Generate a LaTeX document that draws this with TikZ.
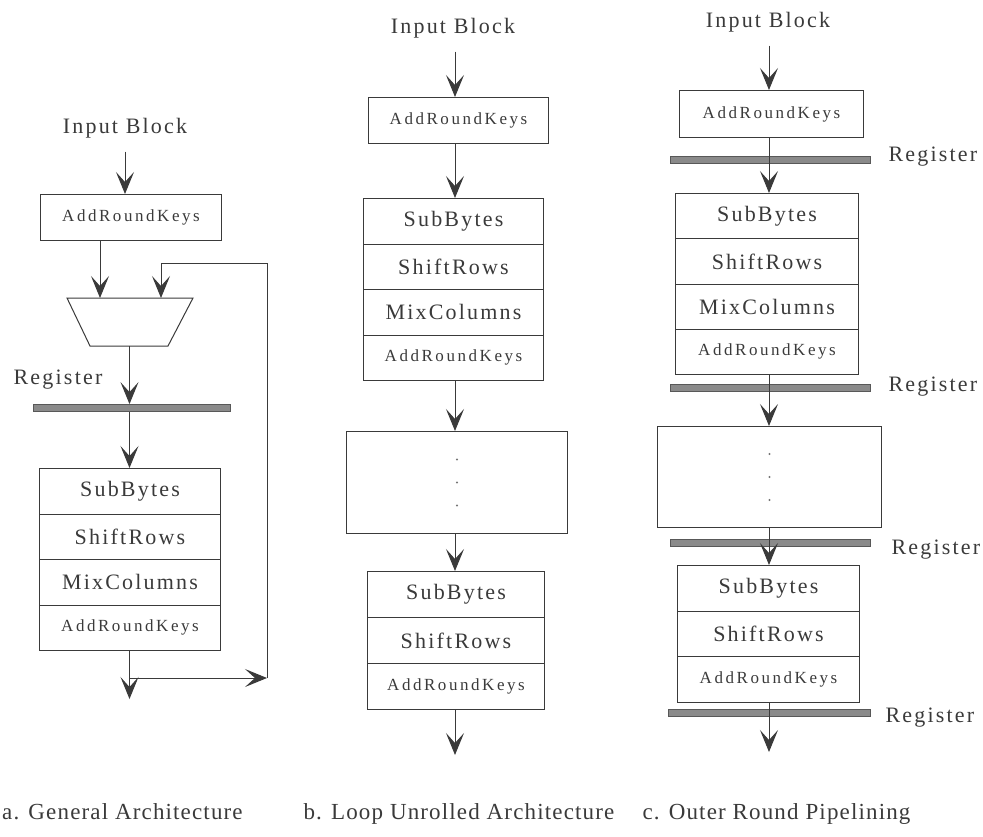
\documentclass[tikz,border=0pt]{standalone}
\usepackage{fontspec}
\setmainfont{Liberation Serif}
\newfontfamily\widefont[LetterSpace=10]{Liberation Serif}
\newfontfamily\keyfontfam[LetterSpace=15]{Liberation Serif}
\newfontfamily\capfontfam[LetterSpace=5]{Liberation Serif}
\usetikzlibrary{arrows.meta,calc}

\definecolor{ink}{RGB}{58,58,58}
\definecolor{regfill}{RGB}{138,138,138}

\begin{document}
\begin{tikzpicture}[x=1pt,y=-1pt,
  every node/.style={text=ink},
  big/.style={font=\widefont\fontsize{22}{24}\selectfont},
  keytext/.style={font=\keyfontfam\fontsize{17}{19}\selectfont},
  captext/.style={font=\capfontfam\fontsize{23}{25}\selectfont},
  stage/.style={draw=ink, line width=1pt, inner sep=0pt, anchor=north west},
  wire/.style={draw=ink, line width=1pt},
  arr/.style={draw=ink, line width=1pt, -{Stealth[length=22pt,width=18pt,inset=10pt]}},
  register/.style={draw=ink!85, fill=regfill, line width=0.8pt,
    minimum height=7pt, inner sep=0pt},
  dotmark/.style={fill=ink!70},
]
\useasboundingbox (0,0) rectangle (983,836);

% ---------------- a. General Architecture ----------------
\node[big] (inA) at (125,128) {Input Block};
\node[stage,keytext,minimum width=181pt,minimum height=46pt] (arkA) at (40,194) {AddRoundKeys};

% multiplexer (trapezoid, wide side on top)
\coordinate (muxTL) at (67,298);
\coordinate (muxTR) at (193,298);
\coordinate (muxBR) at (168,346);
\coordinate (muxBL) at (90,346);
\coordinate (muxIn1) at (100,298);
\coordinate (muxIn2) at (161,298);
\coordinate (muxOut) at (129.5,346);
\draw[wire, line join=miter] (muxTL) -- (muxTR) -- (muxBR) -- (muxBL) -- cycle;

\node[big] (regAl) at (58,380) {Register};
\node[register, minimum width=197pt] (regA) at (131.5,408) {};
\node[stage,big,minimum width=181pt,minimum height=45.5pt] (stkA1) at (39,468) {SubBytes};
\node[stage,big,minimum width=181pt,minimum height=45.5pt] (stkA2) at (39,513.5) {ShiftRows};
\node[stage,big,minimum width=181pt,minimum height=45.5pt] (stkA3) at (39,559) {MixColumns};
\node[stage,keytext,minimum width=181pt,minimum height=45.5pt] (stkA4) at (39,604.5) {AddRoundKeys};

\coordinate (fbR) at (267,678);
\coordinate (fbT) at (161,263);
\coordinate (outA) at (129.5,699);

\draw[arr, shorten <=10pt] (inA.south) -- (inA.south |- arkA.north);
\draw[arr] (arkA.south -| muxIn1) -- (muxIn1);
\draw[arr] (fbR) |- (fbT) -- (muxIn2);
\draw[arr] (muxOut) -- (muxOut |- regA.north);
\draw[arr] (muxOut |- regA.south) -- (muxOut |- stkA1.north);
\draw[arr] (stkA4.south -| outA) -- (outA);
\draw[arr] (outA |- fbR) -- (fbR);

% ---------------- b. Loop Unrolled Architecture ----------------
\node[big] (inB) at (453,28) {Input Block};
\node[stage,keytext,minimum width=180pt,minimum height=46pt] (arkB) at (368,97) {AddRoundKeys};
\node[stage,big,minimum width=180pt,minimum height=45.5pt] (stkB1) at (363,198) {SubBytes};
\node[stage,big,minimum width=180pt,minimum height=45.5pt] (stkB2) at (363,243.5) {ShiftRows};
\node[stage,big,minimum width=180pt,minimum height=45.5pt] (stkB3) at (363,289) {MixColumns};
\node[stage,keytext,minimum width=180pt,minimum height=45.5pt] (stkB4) at (363,334.5) {AddRoundKeys};
\node[stage,minimum width=221pt,minimum height=102pt] (dotsB) at (346,431) {};
\node[stage,big,minimum width=177pt,minimum height=46pt] (finB1) at (367,571) {SubBytes};
\node[stage,big,minimum width=177pt,minimum height=46pt] (finB2) at (367,617) {ShiftRows};
\node[stage,keytext,minimum width=177pt,minimum height=46pt] (finB3) at (367,663) {AddRoundKeys};
\foreach \dy in {-23,0,23}
  \fill[dotmark] ($(dotsB.center)+(0,\dy)$) circle (1.2pt);

\coordinate (xb) at (455,0);
\coordinate (outB) at (455,755);
\draw[arr, shorten <=10pt] (inB.south -| xb) -- (arkB.north -| xb);
\draw[arr] (arkB.south -| xb) -- (stkB1.north -| xb);
\draw[arr] (stkB4.south -| xb) -- (dotsB.north -| xb);
\draw[arr] (dotsB.south -| xb) -- (finB1.north -| xb);
\draw[arr] (finB3.south -| xb) -- (outB);

% ---------------- c. Outer Round Pipelining ----------------
\node[big] (inC) at (768,22) {Input Block};
\node[stage,keytext,minimum width=184pt,minimum height=47pt] (arkC) at (679,90) {AddRoundKeys};
\node[register, minimum width=200pt] (regC1) at (770,160) {};
\node[stage,big,minimum width=183pt,minimum height=45.25pt] (stkC1) at (675,193) {SubBytes};
\node[stage,big,minimum width=183pt,minimum height=45.25pt] (stkC2) at (675,238.25) {ShiftRows};
\node[stage,big,minimum width=183pt,minimum height=45.25pt] (stkC3) at (675,283.5) {MixColumns};
\node[stage,keytext,minimum width=183pt,minimum height=45.25pt] (stkC4) at (675,328.75) {AddRoundKeys};
\node[register, minimum width=200pt] (regC2) at (770,388) {};
\node[stage,minimum width=224pt,minimum height=101pt] (dotsC) at (657,426) {};
\node[register, minimum width=200pt] (regC3) at (770,543) {};
\node[stage,big,minimum width=182pt,minimum height=45.7pt] (finC1) at (677,565) {SubBytes};
\node[stage,big,minimum width=182pt,minimum height=45.7pt] (finC2) at (677,610.7) {ShiftRows};
\node[stage,keytext,minimum width=182pt,minimum height=45.7pt] (finC3) at (677,656.4) {AddRoundKeys};
\node[register, minimum width=202pt] (regC4) at (769,713) {};
\foreach \dy in {-23,0,23}
  \fill[dotmark] ($(dotsC.center)+(0,\dy)$) circle (1.2pt);

\node[big, anchor=west] (regC1l) at (885,157) {Register};
\node[big, anchor=west] (regC2l) at (885,387) {Register};
\node[big, anchor=west] (regC3l) at (888,550) {Register};
\node[big, anchor=west] (regC4l) at (882,718) {Register};

\coordinate (xc) at (769,0);
\coordinate (outC) at (769,752);
\draw[arr, shorten <=10pt] (inC.south -| xc) -- (arkC.north -| xc);
\draw[arr] (arkC.south -| xc) -- (stkC1.north -| xc);
\draw[arr] (stkC4.south -| xc) -- (dotsC.north -| xc);
\draw[arr] (dotsC.south -| xc) -- (finC1.north -| xc);
\draw[arr] (finC3.south -| xc) -- (outC);

% ---------------- captions ----------------
\node[captext, anchor=base west, inner xsep=0pt] (capA) at (2,819) {a. General Architecture};
\node[captext, anchor=base west] (capB) at (300,819) {b. Loop Unrolled Architecture};
\node[captext, anchor=base west] (capC) at (639,819) {c. Outer Round Pipelining};
\end{tikzpicture}
\end{document}
